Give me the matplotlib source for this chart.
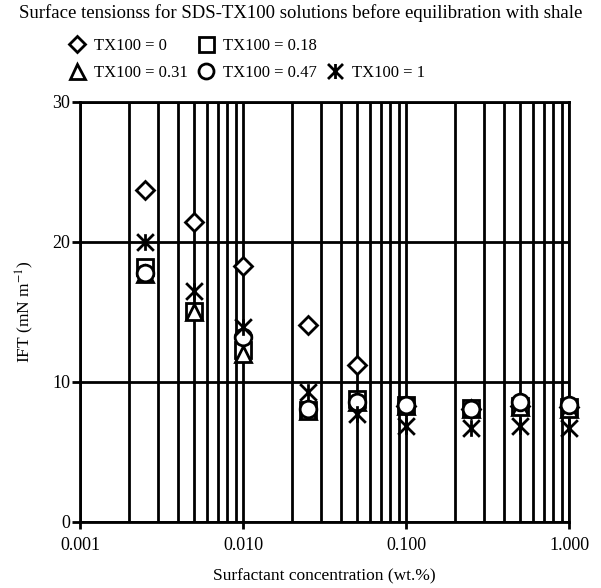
import numpy as np
import matplotlib
matplotlib.use("Agg")
import matplotlib.pyplot as plt
from matplotlib.path import Path
from matplotlib.lines import Line2D
from matplotlib.ticker import FixedLocator, FixedFormatter, LogLocator, NullFormatter

plt.rcParams['font.family'] = ['Liberation Serif', 'DejaVu Serif']
plt.rcParams['mathtext.fontset'] = 'stix'

# ---- data ----
conc = [0.0025, 0.005, 0.01, 0.025, 0.05, 0.1, 0.25, 0.5, 1.0]
ift_tx0 = [23.7, 21.4, 18.3, 14.1, 11.2, 8.3, 8.1, 8.3, 8.2]
ift_tx018 = [18.2, 15.1, 12.3, 8.0, 8.8, 8.35, 8.15, 8.3, 8.2]
ift_tx031 = [17.7, 15.0, 12.0, 7.9, 8.6, 8.3, 8.1, 8.2, 8.1]
ift_tx047 = [17.8, np.nan, 13.2, 8.1, 8.6, 8.35, 8.1, 8.6, 8.35]
ift_tx1 = [20.0, 16.5, 13.9, 9.3, 7.7, 6.85, 6.7, 6.85, 6.75]
series_labels = ['TX100 = 0', 'TX100 = 0.18', 'TX100 = 0.31', 'TX100 = 0.47', 'TX100 = 1']
x_ticks = [0.001, 0.01, 0.1, 1.0]
x_ticklabels = ['0.001', '0.010', '0.100', '1.000']
y_ticks = [0, 10, 20, 30]

title = 'Surface tensionss for SDS-TX100 solutions before equilibration with shale'
xlabel = 'Surfactant concentration (wt.%)'
ylabel = 'IFT (mN m$^{-1}$)'

# asterisk marker: vertical bar + X
ast = Path([(0, -1), (0, 1), (-1, -1), (1, 1), (-1, 1), (1, -1)],
           [Path.MOVETO, Path.LINETO, Path.MOVETO, Path.LINETO, Path.MOVETO, Path.LINETO])

fig = plt.figure(figsize=(6.01, 5.88), dpi=100)
ax = fig.add_axes([80/601, 1-522/588, (569-80)/601, (522-102)/588])

ax.set_xscale('log')
ax.set_xlim(0.001, 1.0)
ax.set_ylim(0, 30)

lw = 2.0
style = dict(linestyle='none', markerfacecolor='white', markeredgecolor='black',
             markeredgewidth=lw, clip_on=False, zorder=5)
h0, = ax.plot(conc, ift_tx0, marker='D', markersize=9.5, label=series_labels[0], **style)
h1, = ax.plot(conc, ift_tx018, marker='s', markersize=12, label=series_labels[1], **style)
h2, = ax.plot(conc, ift_tx031, marker='^', markersize=12, label=series_labels[2], **style)
h3, = ax.plot(conc, ift_tx047, marker='o', markersize=12, label=series_labels[3], **style)
h4, = ax.plot(conc, ift_tx1, marker=ast, markersize=12, color='black', label=series_labels[4],
              linestyle='none', markeredgewidth=lw, clip_on=False, zorder=6)

# grid
ax.xaxis.set_major_locator(FixedLocator(x_ticks))
ax.xaxis.set_major_formatter(FixedFormatter(x_ticklabels))
ax.xaxis.set_minor_locator(LogLocator(base=10, subs=np.arange(2, 10)))
ax.xaxis.set_minor_formatter(NullFormatter())
ax.set_yticks(y_ticks)
ax.grid(True, which='both', axis='x', color='black', linewidth=lw, zorder=1)
ax.grid(True, which='major', axis='y', color='black', linewidth=lw, zorder=1)
ax.set_axisbelow(True)

for s in ax.spines.values():
    s.set_linewidth(lw)
ax.tick_params(axis='x', which='major', direction='out', length=5, width=lw,
               labelsize=13, pad=6)
ax.tick_params(axis='x', which='minor', length=0)
ax.tick_params(axis='y', which='major', direction='out', length=6, width=lw,
               labelsize=13, pad=1)

ax.set_xlabel(xlabel, fontsize=12.5, labelpad=10)
ax.set_ylabel(ylabel, fontsize=12.5, labelpad=12)

fig.text(0.5, 1-13/588, title, ha='center', va='center', fontsize=13.5)

blank = Line2D([], [], linestyle='none', marker=None)
handles = [h0, h2, h1, h3, blank, h4]
labels = [series_labels[0], series_labels[2], series_labels[1], series_labels[3], '', series_labels[4]]
leg = fig.legend(handles, labels, ncol=3, loc='upper left',
                 bbox_to_anchor=(69/601, 1-38/588), frameon=False, fontsize=12,
                 handlelength=1.0, handletextpad=0.5, columnspacing=0.6,
                 labelspacing=0.68, borderaxespad=0, borderpad=0, markerscale=0.9)

fig.savefig('out.png', dpi=100)
